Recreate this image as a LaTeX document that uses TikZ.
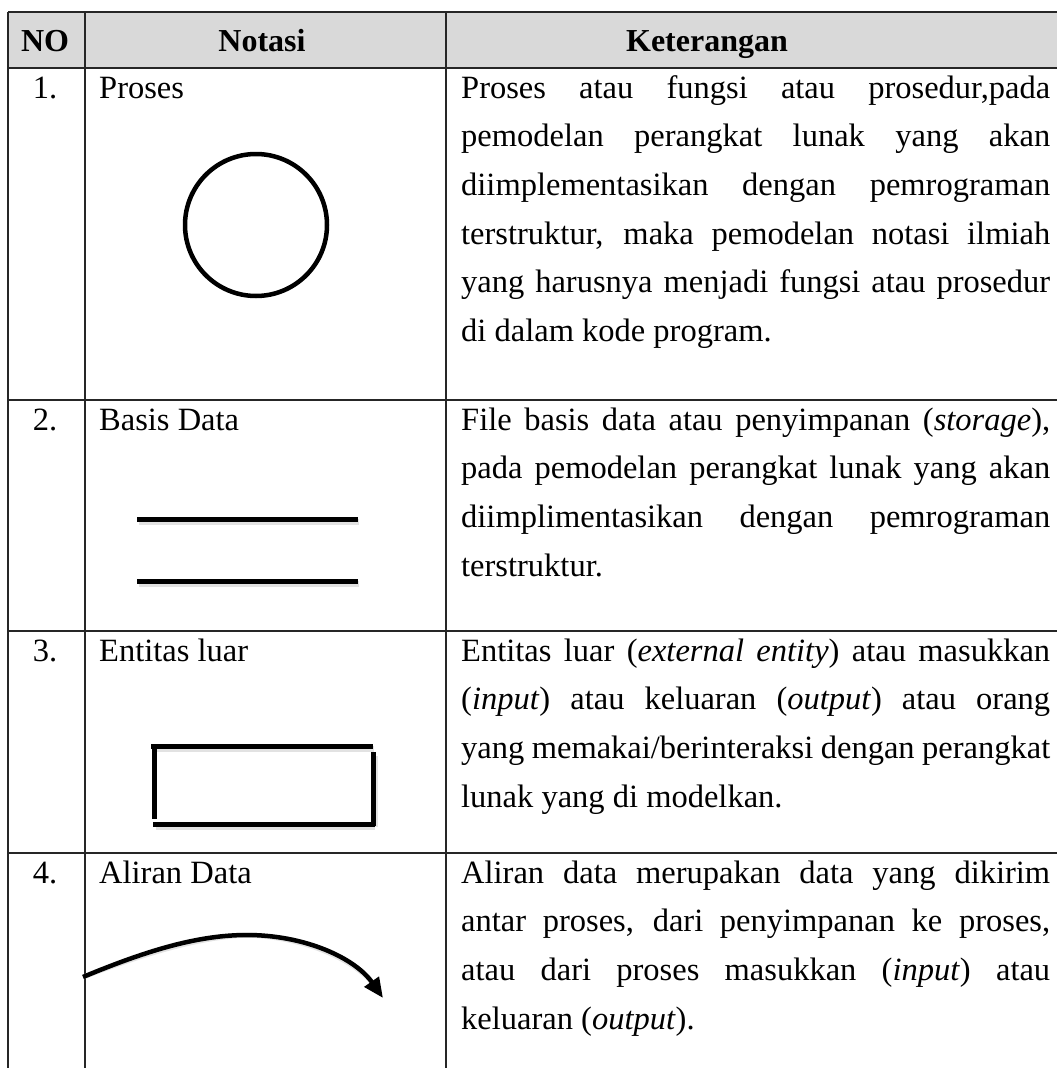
\documentclass[tikz,border=0pt]{standalone}
\usepackage{fontspec}
\setmainfont{Liberation Serif}
\usetikzlibrary{arrows.meta}
% one justified line of the description column
\newcommand\justline[1]{\makebox[589pt][s]{#1}}
\begin{document}
\begin{tikzpicture}[x=1pt,y=-1pt,
  grid/.style={line width=1.3pt,draw=black!85},
  txt/.style={inner sep=0pt,anchor=base west,font=\fontsize{32.5}{38}\selectfont},
  num/.style={inner sep=0pt,anchor=base,font=\fontsize{32.5}{38}\selectfont},
  head/.style={inner sep=0pt,anchor=base,font=\fontsize{32}{38}\selectfont\bfseries},
  sym/.style={line width=5pt,draw=black},
  shade/.style={line width=6pt,draw=black!25,opacity=0.45}]
\useasboundingbox (0,0) rectangle (1057,1068);

% header band
\fill[black!15] (8,12) rectangle (1057,68);

% table rules
\foreach \y in {12,68,400,631,853} \draw[grid] (8,\y) -- (1057,\y);
\foreach \x in {8,85,446} \draw[grid] (\x,12) -- (\x,1068);

% header
\node[head] (hNo)  at (45,51)  {NO};
\node[head] (hNot) at (262,51) {Notasi};
\node[head] (hKet) at (707,51) {Keterangan};

% row 1: process
\node[num] (n1) at (45,98) {1.};
\node[txt] (t1) at (99,98) {Proses};
\node[txt] (k1a) at (461,98)    {\justline{Proses atau fungsi atau prosedur,pada}};
\node[txt] (k1b) at (461,146.7) {\justline{pemodelan perangkat lunak yang akan}};
\node[txt] (k1c) at (461,195.4) {\justline{diimplementasikan dengan pemrograman}};
\node[txt] (k1d) at (461,244.1) {\justline{terstruktur, maka pemodelan notasi ilmiah}};
\node[txt] (k1e) at (461,292.8) {\justline{yang harusnya menjadi fungsi atau prosedur}};
\node[txt] (k1f) at (461,341.5) {di dalam kode program.};
\draw[line width=4.5pt] (256,225) circle[radius=71];

% row 2: data store
\node[num] (n2) at (45,430) {2.};
\node[txt] (t2) at (99,430) {Basis Data};
\node[txt] (k2a) at (461,430)   {\justline{File basis data atau penyimpanan (\textit{storage}),}};
\node[txt] (k2b) at (461,478.7) {\justline{pada pemodelan perangkat lunak yang akan}};
\node[txt] (k2c) at (461,527.4) {\justline{diimplimentasikan dengan pemrograman}};
\node[txt] (k2d) at (461,576.1) {terstruktur.};
\draw[shade] (139,522) -- (359,522);
\draw[shade] (139,584) -- (359,584);
\draw[sym] (137,519) -- (358,519);
\draw[sym] (137,581) -- (358,581);

% row 3: external entity
\node[num] (n3) at (45,661) {3.};
\node[txt] (t3) at (99,661) {Entitas luar};
\node[txt] (k3a) at (461,661)   {\justline{Entitas luar (\textit{external entity}) atau masukkan}};
\node[txt] (k3b) at (461,709.7) {\justline{(\textit{input}) atau keluaran (\textit{output}) atau orang}};
\node[txt] (k3c) at (461,758.4) {\justline{yang memakai/berinteraksi dengan perangkat}};
\node[txt] (k3d) at (461,807.1) {lunak yang di modelkan.};
\draw[shade] (155,749) -- (374,749);
\draw[shade] (156,827) -- (375,827);
\draw[shade] (375,756) -- (375,827);
\draw[sym] (151,746) -- (373,746);
\draw[sym] (154,744) -- (154,819);
\draw[sym] (373,752) -- (373,826);
\draw[sym] (153,824) -- (375,824);

% row 4: data flow
\node[num] (n4) at (45,883) {4.};
\node[txt] (t4) at (99,883) {Aliran Data};
\node[txt] (k4a) at (461,883)    {\justline{Aliran data merupakan data yang dikirim}};
\node[txt] (k4b) at (461,931.7)  {\justline{antar proses, dari penyimpanan ke proses,}};
\node[txt] (k4c) at (461,980.4)  {\justline{atau dari proses masukkan (\textit{input}) atau}};
\node[txt] (k4d) at (461,1029.1) {keluaran (\textit{output}).};
\coordinate (fs) at (83,977);
\coordinate (fm) at (247,935);
\coordinate (fe) at (383,998);
\draw[line width=5pt,black!25,opacity=0.45,shift={(1,2)}]
  (fs) .. controls (150,949) and (200,935) .. (fm)
       .. controls (305,935) and (355,958) .. (375,985);
\draw[line width=4.5pt,-{Triangle[length=20pt,width=17pt]}]
  (fs) .. controls (150,949) and (200,935) .. (fm)
       .. controls (305,935) and (355,958) .. (fe);
\end{tikzpicture}
\end{document}
